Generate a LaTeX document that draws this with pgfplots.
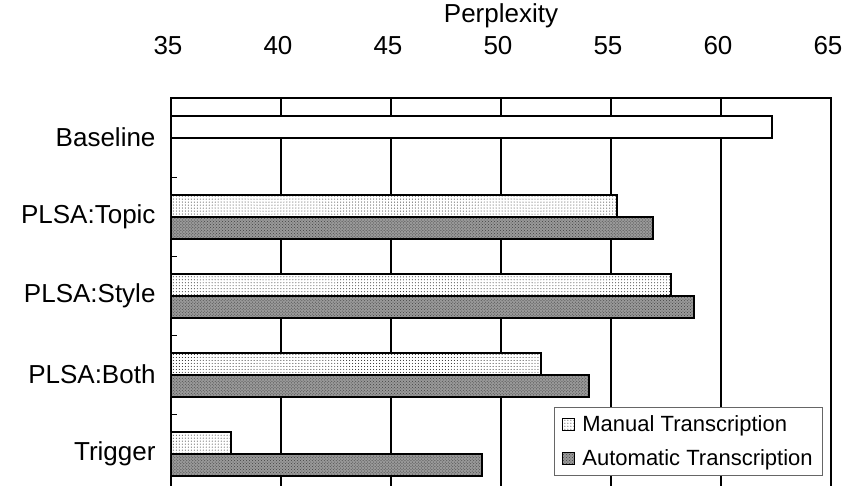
\documentclass[border=0pt]{standalone}
\usepackage{fontspec}
\setmainfont{Liberation Sans}
\usepackage{pgfplots}
\pgfplotsset{compat=1.18}
\usetikzlibrary{patterns}
\begin{document}
\begin{tikzpicture}
\begin{axis}[
  at={(0,0)}, anchor=north west,
  scale only axis, width=660bp, height=395bp,
  xbar, xmin=35, xmax=65, ymin=-0.5, ymax=4.5,
  font=\fontsize{26bp}{30bp}\selectfont,
  /pgf/number format/assume math mode=true,
  axis line style={line width=2bp, black},
  xtick={35,40,...,65}, xticklabel pos=upper, xtick pos=upper,
  xticklabel style={yshift=40bp, xshift=-3bp},
  xmajorgrids, major grid style={line width=2bp, black},
  xlabel={Perplexity},
  xlabel style={at={(axis description cs:0.5,1)}, anchor=base, yshift=75bp},
  ytick={0,...,4},
  yticklabels={Trigger,PLSA:Both,PLSA:Style,PLSA:Topic,Baseline},
  minor ytick={0.5,1.5,2.5,3.5},
  ytick pos=left, tick align=inside,
  major tick length=0pt, minor tick length=6bp,
  minor tick style={line width=1bp, black},
  yticklabel style={xshift=-12bp},
  bar width=22bp,
  area legend,
  legend image code/.code={%
    \pgfpathrectangle{\pgfpoint{0bp}{-6bp}}{\pgfpoint{18bp}{12bp}}%
    \pgfusepath{use as bounding box}%
    \draw[#1, line width=1bp] (0bp,-6bp) rectangle (12bp,6bp);},
  legend style={at={(axis description cs:0.988,0.218)}, anchor=north east,
    draw=black!60, line width=0.8bp, font=\fontsize{22bp}{26bp}\selectfont,
    row sep=13bp, inner xsep=8bp, inner ysep=6bp},
  legend cell align=left,
]
\addplot[bar shift=11bp, draw=black, line width=2bp, fill=white,
  postaction={pattern=dots, pattern color=black!90}]
  coordinates {(37.71,0) (51.83,1) (57.74,2) (55.26,3)};
\addlegendentry{Manual Transcription}
\addplot[bar shift=-11bp, draw=black, line width=2bp, fill=black!40,
  postaction={pattern=crosshatch dots, pattern color=black!75}]
  coordinates {(49.12,0) (54.01,1) (58.77,2) (56.90,3)};
\addlegendentry{Automatic Transcription}
\addplot[forget plot, bar shift=11bp, draw=black, line width=2bp, fill=white]
  coordinates {(62.33,4)};
\end{axis}
\pgfresetboundingbox
\path[use as bounding box] (-171bp,-388bp) rectangle (673bp,98bp);
\end{tikzpicture}
\end{document}
